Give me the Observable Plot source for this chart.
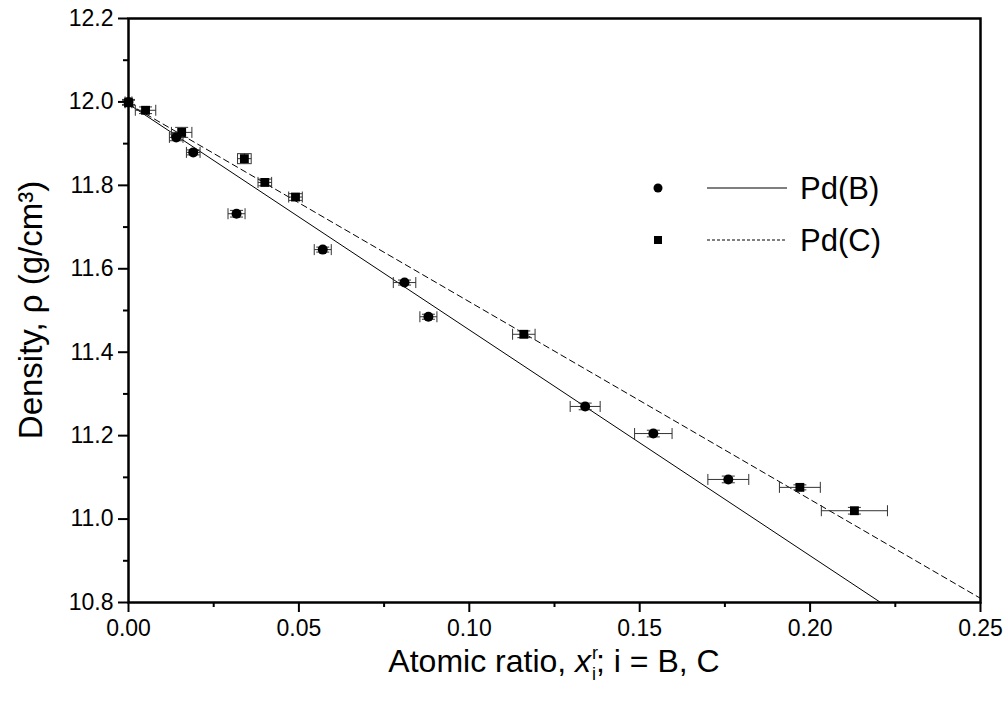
<!DOCTYPE html>
<html>
<head>
<meta charset="utf-8">
<script src="https://cdn.jsdelivr.net/npm/d3@7"></script>
<script src="https://cdn.jsdelivr.net/npm/@observablehq/plot@0.6"></script>
<style>
  html, body { margin: 0; padding: 0; background: white; }
  #chart svg { display: block; }
</style>
</head>
<body>
<div id="chart"></div>
<script>
// ---- Data ----
// Pd(B) series (circles)
const bX    = [0, 0.014, 0.019, 0.0317, 0.057, 0.081, 0.088, 0.134, 0.154, 0.176];
const bY    = [12.0, 11.915, 11.879, 11.732, 11.646, 11.567, 11.485, 11.270, 11.205, 11.095];
const bXErr = [0.001, 0.002, 0.002, 0.0025, 0.0025, 0.0033, 0.0025, 0.0044, 0.0055, 0.006];
const bYErr = [0.006, 0.008, 0.006, 0.008, 0.006, 0.006, 0.006, 0.008, 0.008, 0.008];
// Pd(C) series (squares)
const cX    = [0, 0.005, 0.0156, 0.034, 0.040, 0.049, 0.116, 0.197, 0.213];
const cY    = [11.998, 11.98, 11.927, 11.864, 11.807, 11.772, 11.443, 11.076, 11.02];
const cXErr = [0.001, 0.003, 0.003, 0.002, 0.002, 0.002, 0.0033, 0.006, 0.0097];
const cYErr = [0.006, 0.008, 0.012, 0.012, 0.008, 0.008, 0.008, 0.006, 0.008];
// Fitted lines (end points)
const bLineX = [0, 0.2207];
const bLineY = [11.995, 10.8];
const cLineX = [0, 0.25];
const cLineY = [11.995, 10.81];
// Axis ticks
const xTicks = [0, 0.05, 0.10, 0.15, 0.20, 0.25];
const xMinor = [0.025, 0.075, 0.125, 0.175, 0.225];
const yTicks = [10.8, 11.0, 11.2, 11.4, 11.6, 11.8, 12.0, 12.2];
const yMinor = [10.9, 11.1, 11.3, 11.5, 11.7, 11.9, 12.1];
const seriesNames = ["Pd(B)", "Pd(C)"];

const toRows = (xs, ys, xe, ye) => xs.map((x, i) => ({x, y: ys[i], xe: xe[i], ye: ye[i]}));
const bRows = toRows(bX, bY, bXErr, bYErr);
const cRows = toRows(cX, cY, cXErr, cYErr);
const allRows = bRows.concat(cRows);
const bLine = bLineX.map((x, i) => ({x, y: bLineY[i]}));
const cLine = cLineX.map((x, i) => ({x, y: cLineY[i]}));

const capV = {draw(ctx, size) { const r = Math.sqrt(size / Math.PI); ctx.moveTo(0, -r); ctx.lineTo(0, r); }};
const capH = {draw(ctx, size) { const r = Math.sqrt(size / Math.PI); ctx.moveTo(-r, 0); ctx.lineTo(r, 0); }};
const errColor = "#333";
const font = "'Liberation Sans', Arial, sans-serif";

const chart = Plot.plot({
  width: 1004,
  height: 708,
  marginLeft: 128,
  marginRight: 24,
  marginTop: 18,
  marginBottom: 106,
  style: {fontFamily: font, fontSize: "23px", background: "white", color: "black"},
  x: {domain: [0, 0.25]},
  y: {domain: [10.8, 12.2]},
  marks: [
    // fitted lines
    Plot.line(bLine, {x: "x", y: "y", stroke: "black", strokeWidth: 1}),
    Plot.line(cLine, {x: "x", y: "y", stroke: "black", strokeWidth: 1, strokeDasharray: "6,4"}),
    // horizontal error bars
    Plot.link(allRows, {x1: d => d.x - d.xe, x2: d => d.x + d.xe, y1: "y", y2: "y", stroke: errColor, strokeWidth: 1}),
    Plot.dot(allRows, {x: d => d.x - d.xe, y: "y", symbol: capV, r: 5.5, stroke: errColor, fill: "none", strokeWidth: 1}),
    Plot.dot(allRows, {x: d => d.x + d.xe, y: "y", symbol: capV, r: 5.5, stroke: errColor, fill: "none", strokeWidth: 1}),
    // vertical error bars
    Plot.link(allRows, {x1: "x", x2: "x", y1: d => d.y - d.ye, y2: d => d.y + d.ye, stroke: errColor, strokeWidth: 1}),
    Plot.dot(allRows, {x: "x", y: d => d.y - d.ye, symbol: capH, r: 6.5, stroke: errColor, fill: "none", strokeWidth: 1}),
    Plot.dot(allRows, {x: "x", y: d => d.y + d.ye, symbol: capH, r: 6.5, stroke: errColor, fill: "none", strokeWidth: 1}),
    // markers
    Plot.dot(bRows, {x: "x", y: "y", r: 5, fill: "black", stroke: "none", symbol: "circle"}),
    Plot.dot(cRows, {x: "x", y: "y", r: 5, fill: "black", stroke: "none", symbol: "square"}),
    // axes
    Plot.axisY(yTicks, {tickSize: 10, tickPadding: 5, tickFormat: d => d.toFixed(1), label: null, strokeWidth: 2, fontSize: 23}),
    Plot.axisY(yMinor, {tickSize: 5, tickFormat: () => "", label: null, strokeWidth: 2}),
    Plot.axisX(xTicks, {tickSize: 10, tickPadding: 7, tickFormat: d => d.toFixed(2), label: null, strokeWidth: 2, fontSize: 23}),
    Plot.axisX(xMinor, {tickSize: 5, tickFormat: () => "", label: null, strokeWidth: 2}),
    Plot.frame({stroke: "black", strokeWidth: 2.5})
  ]
});

document.getElementById("chart").appendChild(chart);

const svg = d3.select(chart);

// X axis title with stacked super/subscript
const xt = svg.append("text")
  .attr("x", 554).attr("y", 672)
  .attr("text-anchor", "middle")
  .attr("font-family", font).attr("font-size", 32).attr("fill", "black");
xt.append("tspan").text("Atomic ratio, ");
xt.append("tspan").attr("font-style", "italic").text("x");
xt.append("tspan").attr("font-size", 18).attr("dy", -13).attr("dx", 1).text("r");
xt.append("tspan").attr("font-size", 18).attr("dy", 21).attr("dx", -6).text("i");
xt.append("tspan").attr("dy", -8).text("; i = B, C");

// Y axis title
svg.append("text")
  .attr("transform", "translate(42,310) rotate(-90)")
  .attr("text-anchor", "middle")
  .attr("font-family", font).attr("font-size", 33).attr("fill", "black")
  .text("Density, ρ (g/cm³)");

// Legend
const lg = svg.append("g").attr("font-family", font).attr("font-size", 31).attr("fill", "black").attr("text-anchor", "start");
lg.append("circle").attr("cx", 658).attr("cy", 188).attr("r", 4.5).attr("fill", "black");
lg.append("line").attr("x1", 707).attr("x2", 787).attr("y1", 188).attr("y2", 188).attr("stroke", "black").attr("stroke-width", 1);
lg.append("text").attr("x", 800).attr("y", 199).text(seriesNames[0]);
lg.append("rect").attr("x", 654).attr("y", 236).attr("width", 8).attr("height", 8).attr("fill", "black");
lg.append("line").attr("x1", 707).attr("x2", 787).attr("y1", 240).attr("y2", 240).attr("stroke", "black").attr("stroke-width", 1).attr("stroke-dasharray", "3,2");
lg.append("text").attr("x", 800).attr("y", 251).text(seriesNames[1]);
</script>
</body>
</html>
